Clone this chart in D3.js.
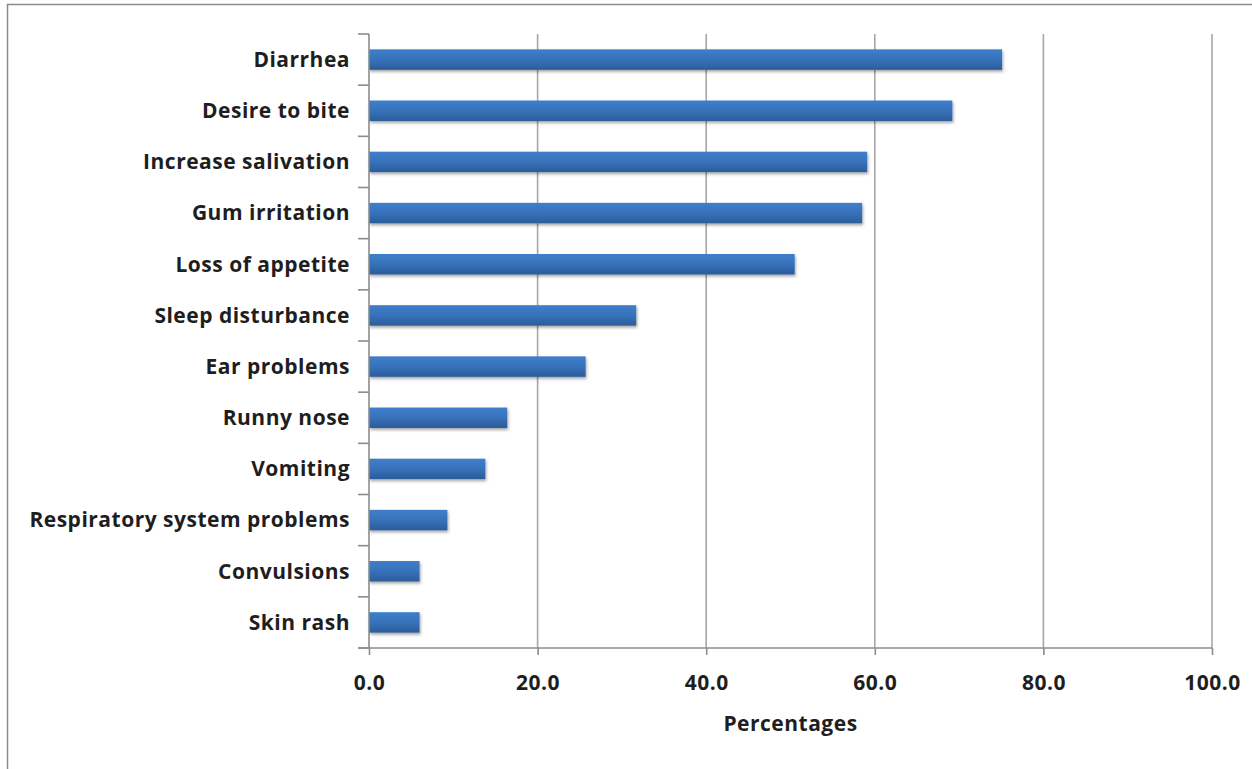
<!DOCTYPE html>
<html>
<head>
<meta charset="utf-8">
<script src="https://cdn.jsdelivr.net/npm/d3@7"></script>
<style>
  html, body { margin: 0; padding: 0; background: #fff; }
  svg { display: block; }
  text { font-family: "Open Sans", Lato, sans-serif; font-weight: bold; fill: #1e1e1e; letter-spacing: 0.5px; }
</style>
</head>
<body>
<svg id="chart" width="1252" height="769"></svg>
<script>
// Symptoms reported, percentage of respondents
const categories = [
  "Diarrhea", "Desire to bite", "Increase salivation", "Gum irritation",
  "Loss of appetite", "Sleep disturbance", "Ear problems", "Runny nose",
  "Vomiting", "Respiratory system problems", "Convulsions", "Skin rash"
];
const percentages = [75.1, 69.2, 59.1, 58.5, 50.5, 31.7, 25.7, 16.4, 13.8, 9.3, 6.0, 6.0];
const xTicks = [0, 20, 40, 60, 80, 100];
const xTitle = "Percentages";

const svg = d3.select("#chart");
const plot = { left: 369, right: 1212, top: 34, bottom: 648 };
const fontFamily = "'Open Sans', Lato, sans-serif";
const labelSize = 21;

// outer chart-area frame
svg.append("rect")
  .attr("x", 7.5).attr("y", 4.5)
  .attr("width", 1300).attr("height", 900)
  .attr("fill", "none").attr("stroke", "#8c8c8c").attr("stroke-width", 1.5);

const x = d3.scaleLinear().domain([0, 100]).range([plot.left, plot.right]);
const y = d3.scaleBand().domain(categories).range([plot.top, plot.bottom]).paddingInner(0.6).paddingOuter(0.3);

const defs = svg.append("defs");
const grad = defs.append("linearGradient").attr("id", "barFill")
  .attr("x1", 0).attr("y1", 0).attr("x2", 0).attr("y2", 1);
grad.append("stop").attr("offset", "0%").attr("stop-color", "#3f7fcb");
grad.append("stop").attr("offset", "55%").attr("stop-color", "#3670b8");
grad.append("stop").attr("offset", "100%").attr("stop-color", "#2b5c98");
const shadow = defs.append("filter").attr("id", "barShadow")
  .attr("x", "-5%").attr("y", "-30%").attr("width", "110%").attr("height", "170%");
shadow.append("feDropShadow").attr("dx", 1).attr("dy", 2).attr("stdDeviation", 1.6)
  .attr("flood-color", "#000").attr("flood-opacity", 0.35);

// vertical gridlines
svg.append("g").selectAll("line").data(xTicks.filter(d => d > 0)).join("line")
  .attr("x1", d => x(d)).attr("x2", d => x(d))
  .attr("y1", plot.top).attr("y2", plot.bottom)
  .attr("stroke", "#a6a6a6").attr("stroke-width", 1.6);

// bars
svg.append("g").selectAll("rect").data(categories).join("rect")
  .attr("x", x(0))
  .attr("y", d => y(d))
  .attr("width", (d, i) => x(percentages[i]) - x(0))
  .attr("height", y.bandwidth())
  .attr("fill", "url(#barFill)")
  .attr("filter", "url(#barShadow)");

// x axis
const xAxis = svg.append("g").attr("transform", `translate(0,${plot.bottom})`)
  .call(d3.axisBottom(x).tickValues(xTicks).tickFormat(d3.format(".1f")).tickSizeOuter(0).tickSize(7).tickPadding(20));
xAxis.select(".domain").attr("stroke", "#8c8c8c").attr("stroke-width", 1.6)
  .attr("d", `M${plot.left - 11},0H${plot.right}`);
xAxis.selectAll(".tick line").attr("stroke", "#8c8c8c").attr("stroke-width", 1.6);
xAxis.selectAll(".tick text").attr("font-size", labelSize).attr("fill", "#1e1e1e")
  .attr("font-family", fontFamily).attr("font-weight", "bold");

// y axis: category boundary ticks
const boundaries = d3.range(categories.length + 1).map(i => plot.top + i * y.step());
const yAxis = svg.append("g");
yAxis.append("line")
  .attr("x1", plot.left).attr("x2", plot.left)
  .attr("y1", plot.top).attr("y2", plot.bottom)
  .attr("stroke", "#8c8c8c").attr("stroke-width", 1.6);
yAxis.selectAll("line.tick").data(boundaries).join("line").attr("class", "tick")
  .attr("x1", plot.left - 11).attr("x2", plot.left)
  .attr("y1", d => d).attr("y2", d => d)
  .attr("stroke", "#8c8c8c").attr("stroke-width", 1.6);
yAxis.selectAll("text").data(categories).join("text")
  .attr("x", plot.left - 19)
  .attr("y", d => y(d) + y.bandwidth() / 2)
  .attr("dy", "0.35em")
  .attr("text-anchor", "end")
  .attr("font-size", labelSize)
  .text(d => d);

// axis title
svg.append("text")
  .attr("x", (plot.left + plot.right) / 2)
  .attr("y", 731)
  .attr("text-anchor", "middle")
  .attr("font-size", labelSize)
  .text(xTitle);
</script>
</body>
</html>
